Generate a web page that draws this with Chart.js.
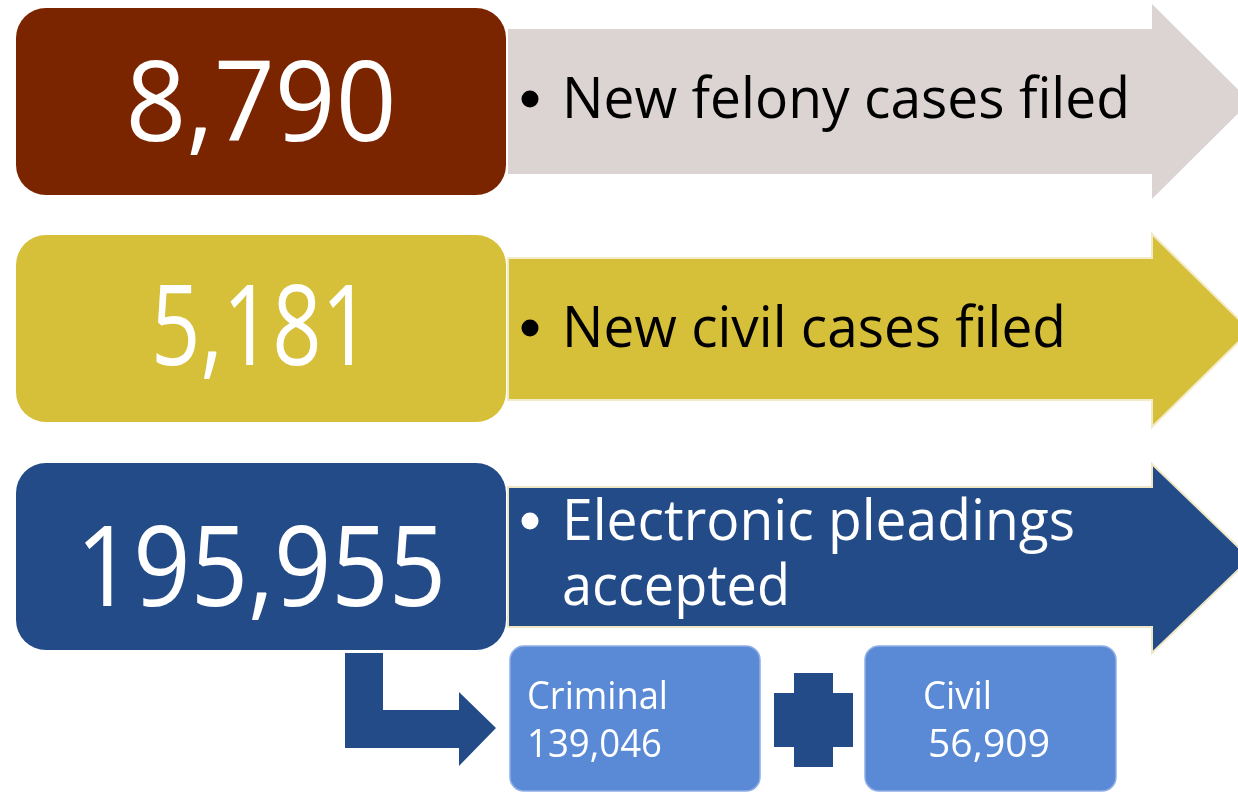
<!DOCTYPE html>
<html>
<head>
<meta charset="utf-8">
<title>Filings</title>
<script src="https://cdn.jsdelivr.net/npm/chart.js"></script>
<style>
  html, body { margin: 0; padding: 0; background: #fff; }
  #wrap { width: 1238px; height: 792px; position: relative; }
</style>
</head>
<body>
<div id="wrap"><canvas id="board"></canvas></div>
<script>
// --- data ---
const counts = [8790, 5181, 195955];
const countLabels = [
    ['New felony cases filed'],
    ['New civil cases filed'],
    ['Electronic pleadings', 'accepted']
];
const splitLabels = ['Criminal', 'Civil'];
const splitCounts = [139046, 56909];

// --- styles ---
const boxColors = ['#7B2500', '#D6BF39', '#224B88'];
const arrowColors = ['#DCD3D3', '#D6BF39', '#224B88'];
const arrowEdges = [null, '#F3EBC8', '#EFE6C6'];
const labelColors = ['#000000', '#000000', '#FFFFFF'];
const splitColor = '#5A8AD6';
const FONT = '"Open Sans", "Noto Sans", sans-serif';

// --- layout (design units = 1238 x 792) ---
const rows = [
    { top: 8,   bottom: 195, body: [29, 174],  head: [4, 199],   numBase: 141, numW: 271,
      lines: [{ base: 118, w: 568 }] },
    { top: 235, bottom: 422, body: [258, 400], head: [234, 427], numBase: 365, numW: 220,
      lines: [{ base: 347, w: 504 }] },
    { top: 463, bottom: 650, body: [487, 627], head: [464, 653], numBase: 606, numW: 370,
      lines: [{ base: 540, w: 513 }, { base: 605, w: 228 }] }
];
const splits = [
    { x0: 510, x1: 760, labelX: 527, numX: 527, labelW: 141, numW: 135 },
    { x0: 865, x1: 1116, labelX: 923, numX: 928, labelW: 69, numW: 122 }
];

const fmt = n => n.toLocaleString('en-US');

const Board = {
    px(chart, v) { return chart.scales.x.getPixelForValue(v); },
    py(chart, v) { return chart.scales.y.getPixelForValue(v); },

    poly(ctx, chart, pts, fill, edge) {
        ctx.beginPath();
        pts.forEach((p, i) => {
            const x = this.px(chart, p[0]), y = this.py(chart, p[1]);
            i ? ctx.lineTo(x, y) : ctx.moveTo(x, y);
        });
        ctx.closePath();
        ctx.fillStyle = fill;
        ctx.fill();
        if (edge) { ctx.strokeStyle = edge; ctx.lineWidth = 2; ctx.stroke(); }
    },

    roundBox(ctx, chart, x0, y0, x1, y1, r, fill, edge) {
        const a = this.px(chart, x0), b = this.py(chart, y0);
        const w = this.px(chart, x1) - a, h = this.py(chart, y1) - b;
        ctx.beginPath();
        ctx.roundRect(a, b, w, h, r);
        ctx.fillStyle = fill;
        ctx.fill();
        if (edge) { ctx.strokeStyle = edge; ctx.lineWidth = 1.5; ctx.stroke(); }
    },

    // text squeezed/stretched to the width seen in the picture
    text(ctx, chart, str, x, base, size, width, align, color) {
        ctx.save();
        ctx.font = `${size}px ${FONT}`;
        const s = width / ctx.measureText(str).width;
        ctx.translate(this.px(chart, x), this.py(chart, base));
        ctx.scale(s, 1);
        ctx.textAlign = align;
        ctx.textBaseline = 'alphabetic';
        ctx.fillStyle = color;
        ctx.fillText(str, 0, 0);
        ctx.restore();
    },

    draw(chart) {
        const ctx = chart.ctx;
        ctx.save();

        // arrows, starting just right of the number boxes
        rows.forEach((r, i) => {
            const mid = (r.head[0] + r.head[1]) / 2;
            this.poly(ctx, chart, [
                [508, r.body[0]], [1152, r.body[0]], [1152, r.head[0]], [1250, mid],
                [1152, r.head[1]], [1152, r.body[1]], [508, r.body[1]]
            ], arrowColors[i], arrowEdges[i]);
        });

        rows.forEach((r, i) => {
            this.roundBox(ctx, chart, 16, r.top, 506, r.bottom, 30, boxColors[i], null);
            this.text(ctx, chart, fmt(counts[i]), 261, r.numBase, 112, r.numW, 'center', '#FFFFFF');

            // bullet + label lines
            ctx.beginPath();
            ctx.arc(this.px(chart, 530), this.py(chart, r.lines[0].base - 19), 8.5, 0, Math.PI * 2);
            ctx.fillStyle = labelColors[i];
            ctx.fill();
            countLabels[i].forEach((line, k) => {
                const ln = r.lines[k];
                this.text(ctx, chart, line, 562, ln.base, 56, ln.w, 'left', labelColors[i]);
            });
        });

        // bent arrow down to the split
        this.poly(ctx, chart, [
            [345, 653], [383, 653], [383, 710], [459, 710], [459, 692], [496, 728],
            [459, 766], [459, 748], [345, 748]
        ], boxColors[2], null);

        // plus sign
        this.poly(ctx, chart, [
            [794, 673], [833, 673], [833, 693], [853, 693], [853, 747], [833, 747],
            [833, 767], [794, 767], [794, 747], [774, 747], [774, 693], [794, 693]
        ], boxColors[2], null);

        splits.forEach((s, i) => {
            this.roundBox(ctx, chart, s.x0, 646, s.x1, 791, 14, splitColor, '#8EAEE6');
            this.text(ctx, chart, splitLabels[i], s.labelX, 709, 38, s.labelW, 'left', '#FFFFFF');
            this.text(ctx, chart, fmt(splitCounts[i]), s.numX, 757, 38, s.numW, 'left', '#FFFFFF');
        });

        ctx.restore();
    }
};

const boardPlugin = {
    id: 'board',
    afterDatasetsDraw(chart) { Board.draw(chart); }
};

new Chart(document.getElementById('board'), {
    type: 'scatter',
    data: { datasets: [{ data: [] }] },
    options: {
        responsive: true,
        maintainAspectRatio: false,
        devicePixelRatio: 1,
        animation: false,
        layout: { padding: 0 },
        plugins: { legend: { display: false }, tooltip: { enabled: false } },
        scales: {
            x: { type: 'linear', min: 0, max: 1238, display: false },
            y: { type: 'linear', min: 0, max: 792, reverse: true, display: false }
        }
    },
    plugins: [boardPlugin]
});
</script>
</body>
</html>
